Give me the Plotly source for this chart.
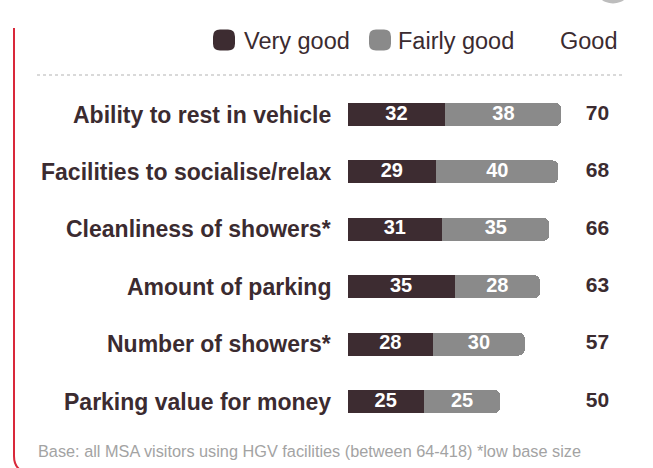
import plotly.graph_objects as go

# Satisfaction with HGV facilities at motorway service areas (%)
categories = [
    "Ability to rest in vehicle",
    "Facilities to socialise/relax",
    "Cleanliness of showers*",
    "Amount of parking",
    "Number of showers*",
    "Parking value for money",
]
very_good = [32, 29, 31, 35, 28, 25]
fairly_good = [38, 40, 35, 28, 30, 25]
good_total = [70, 68, 66, 63, 57, 50]

series_names = ["Very good", "Fairly good"]
total_header = "Good"
footnote = "Base: all MSA visitors using HGV facilities (between 64-418) *low base size"

DARK = "#3d2c31"
GREY = "#8a8a8a"
TEXT = "#3b2b30"
FONT = "Liberation Sans"

W, H = 653, 468
PX_PER_UNIT = 3.057      # horizontal scale of the bar axis
X_ZERO_PX = 347.5        # where the bars start
ROW0_PX = 114.5          # centre of the first row
ROW_STEP = 57.4          # distance between rows


def px(x):
    return x / W


def py(y):
    return 1 - y / H


x_lo = -X_ZERO_PX / PX_PER_UNIT
x_hi = (W - X_ZERO_PX) / PX_PER_UNIT
y_top = -ROW0_PX / ROW_STEP
y_bottom = (H - ROW0_PX) / ROW_STEP

fig = go.Figure()

bar_colors = [DARK, GREY]
for name, values, color in zip(series_names, [very_good, fairly_good], bar_colors):
    fig.add_trace(go.Bar(
        name=name,
        y=categories,
        x=values,
        orientation="h",
        width=0.40,
        marker=dict(color=color, line=dict(width=0)),
        hoverinfo="skip",
        showlegend=False,
    ))

# Segment values written in the middle of each segment
seg_x = [v / 2 for v in very_good] + [v + f / 2 for v, f in zip(very_good, fairly_good)]
seg_text = [str(v) for v in very_good] + [str(f) for f in fairly_good]
fig.add_trace(go.Scatter(
    x=seg_x,
    y=categories + categories,
    mode="text",
    text=seg_text,
    textposition="middle center",
    textfont=dict(family=FONT, size=20, color="white", weight="bold"),
    hoverinfo="skip",
    showlegend=False,
))

# "Good" totals column
total_x = (597.5 - X_ZERO_PX) / PX_PER_UNIT
fig.add_trace(go.Scatter(
    x=[total_x] * len(categories),
    y=categories,
    mode="text",
    text=[str(t) for t in good_total],
    textposition="middle center",
    textfont=dict(family=FONT, size=21, color=TEXT, weight="bold"),
    hoverinfo="skip",
    showlegend=False,
))

annotations = []
# Row labels, right-aligned against the bars
for cat in categories:
    annotations.append(dict(
        x=0, y=cat, xref="x", yref="y",
        text=cat, showarrow=False,
        xanchor="right", yanchor="middle", xshift=-15,
        font=dict(family=FONT, size=23, color=TEXT, weight="bold"),
    ))

# Legend texts and column header
legend_font = dict(family=FONT, size=23.5, color=TEXT)
annotations.append(dict(x=px(242), y=py(41), xref="paper", yref="paper",
                        text=series_names[0], showarrow=False,
                        xanchor="left", yanchor="middle", font=legend_font))
annotations.append(dict(x=px(396), y=py(41), xref="paper", yref="paper",
                        text=series_names[1], showarrow=False,
                        xanchor="left", yanchor="middle", font=legend_font))
annotations.append(dict(x=px(588.5), y=py(41), xref="paper", yref="paper",
                        text=total_header, showarrow=False,
                        xanchor="center", yanchor="middle", font=legend_font))

# Footnote
annotations.append(dict(x=px(36), y=py(451), xref="paper", yref="paper",
                        text=footnote, showarrow=False,
                        xanchor="left", yanchor="middle",
                        font=dict(family=FONT, size=16.3, color="#a3a3a3")))


def rounded_box(x0, y0, x1, y1, r):
    """Rounded rectangle path in paper units, from pixel corners."""
    return (
        f"M {px(x0 + r)},{py(y0)} L {px(x1 - r)},{py(y0)} "
        f"Q {px(x1)},{py(y0)} {px(x1)},{py(y0 + r)} "
        f"L {px(x1)},{py(y1 - r)} Q {px(x1)},{py(y1)} {px(x1 - r)},{py(y1)} "
        f"L {px(x0 + r)},{py(y1)} Q {px(x0)},{py(y1)} {px(x0)},{py(y1 - r)} "
        f"L {px(x0)},{py(y0 + r)} Q {px(x0)},{py(y0)} {px(x0 + r)},{py(y0)} Z"
    )


shapes = [
    # legend swatches
    dict(type="path", xref="paper", yref="paper",
         path=rounded_box(213, 29.5, 235, 50.5, 7),
         fillcolor=DARK, line=dict(width=0)),
    dict(type="path", xref="paper", yref="paper",
         path=rounded_box(369, 29.5, 391, 50.5, 7),
         fillcolor=GREY, line=dict(width=0)),
    # dotted separator under the header
    dict(type="line", xref="paper", yref="paper",
         x0=px(37), x1=px(625), y0=py(75), y1=py(75),
         line=dict(color="#b3b3b3", width=1, dash="dot")),
    # red frame edge on the left with its rounded bottom corner
    dict(type="path", xref="paper", yref="paper",
         path=(f"M {px(14)},{py(28)} L {px(14)},{py(456)} "
               f"Q {px(14)},{py(468)} {px(24)},{py(472)}"),
         line=dict(color="#d9283a", width=2)),
    # grey tab peeking in at the top right
    dict(type="circle", xref="paper", yref="paper",
         x0=px(594), x1=px(632), y0=py(-34), y1=py(3.5),
         fillcolor="#bdbdbd", line=dict(width=0)),
]

fig.update_layout(
    width=W, height=H,
    margin=dict(l=0, r=0, t=0, b=0),
    paper_bgcolor="white",
    plot_bgcolor="white",
    barmode="stack",
    barcornerradius=6,
    showlegend=False,
    xaxis=dict(range=[x_lo, x_hi], visible=False, fixedrange=True),
    yaxis=dict(type="category", categoryorder="array", categoryarray=categories,
               range=[y_bottom, y_top], visible=False, fixedrange=True),
    annotations=annotations,
    shapes=shapes,
)

fig.write_html("out.html")
